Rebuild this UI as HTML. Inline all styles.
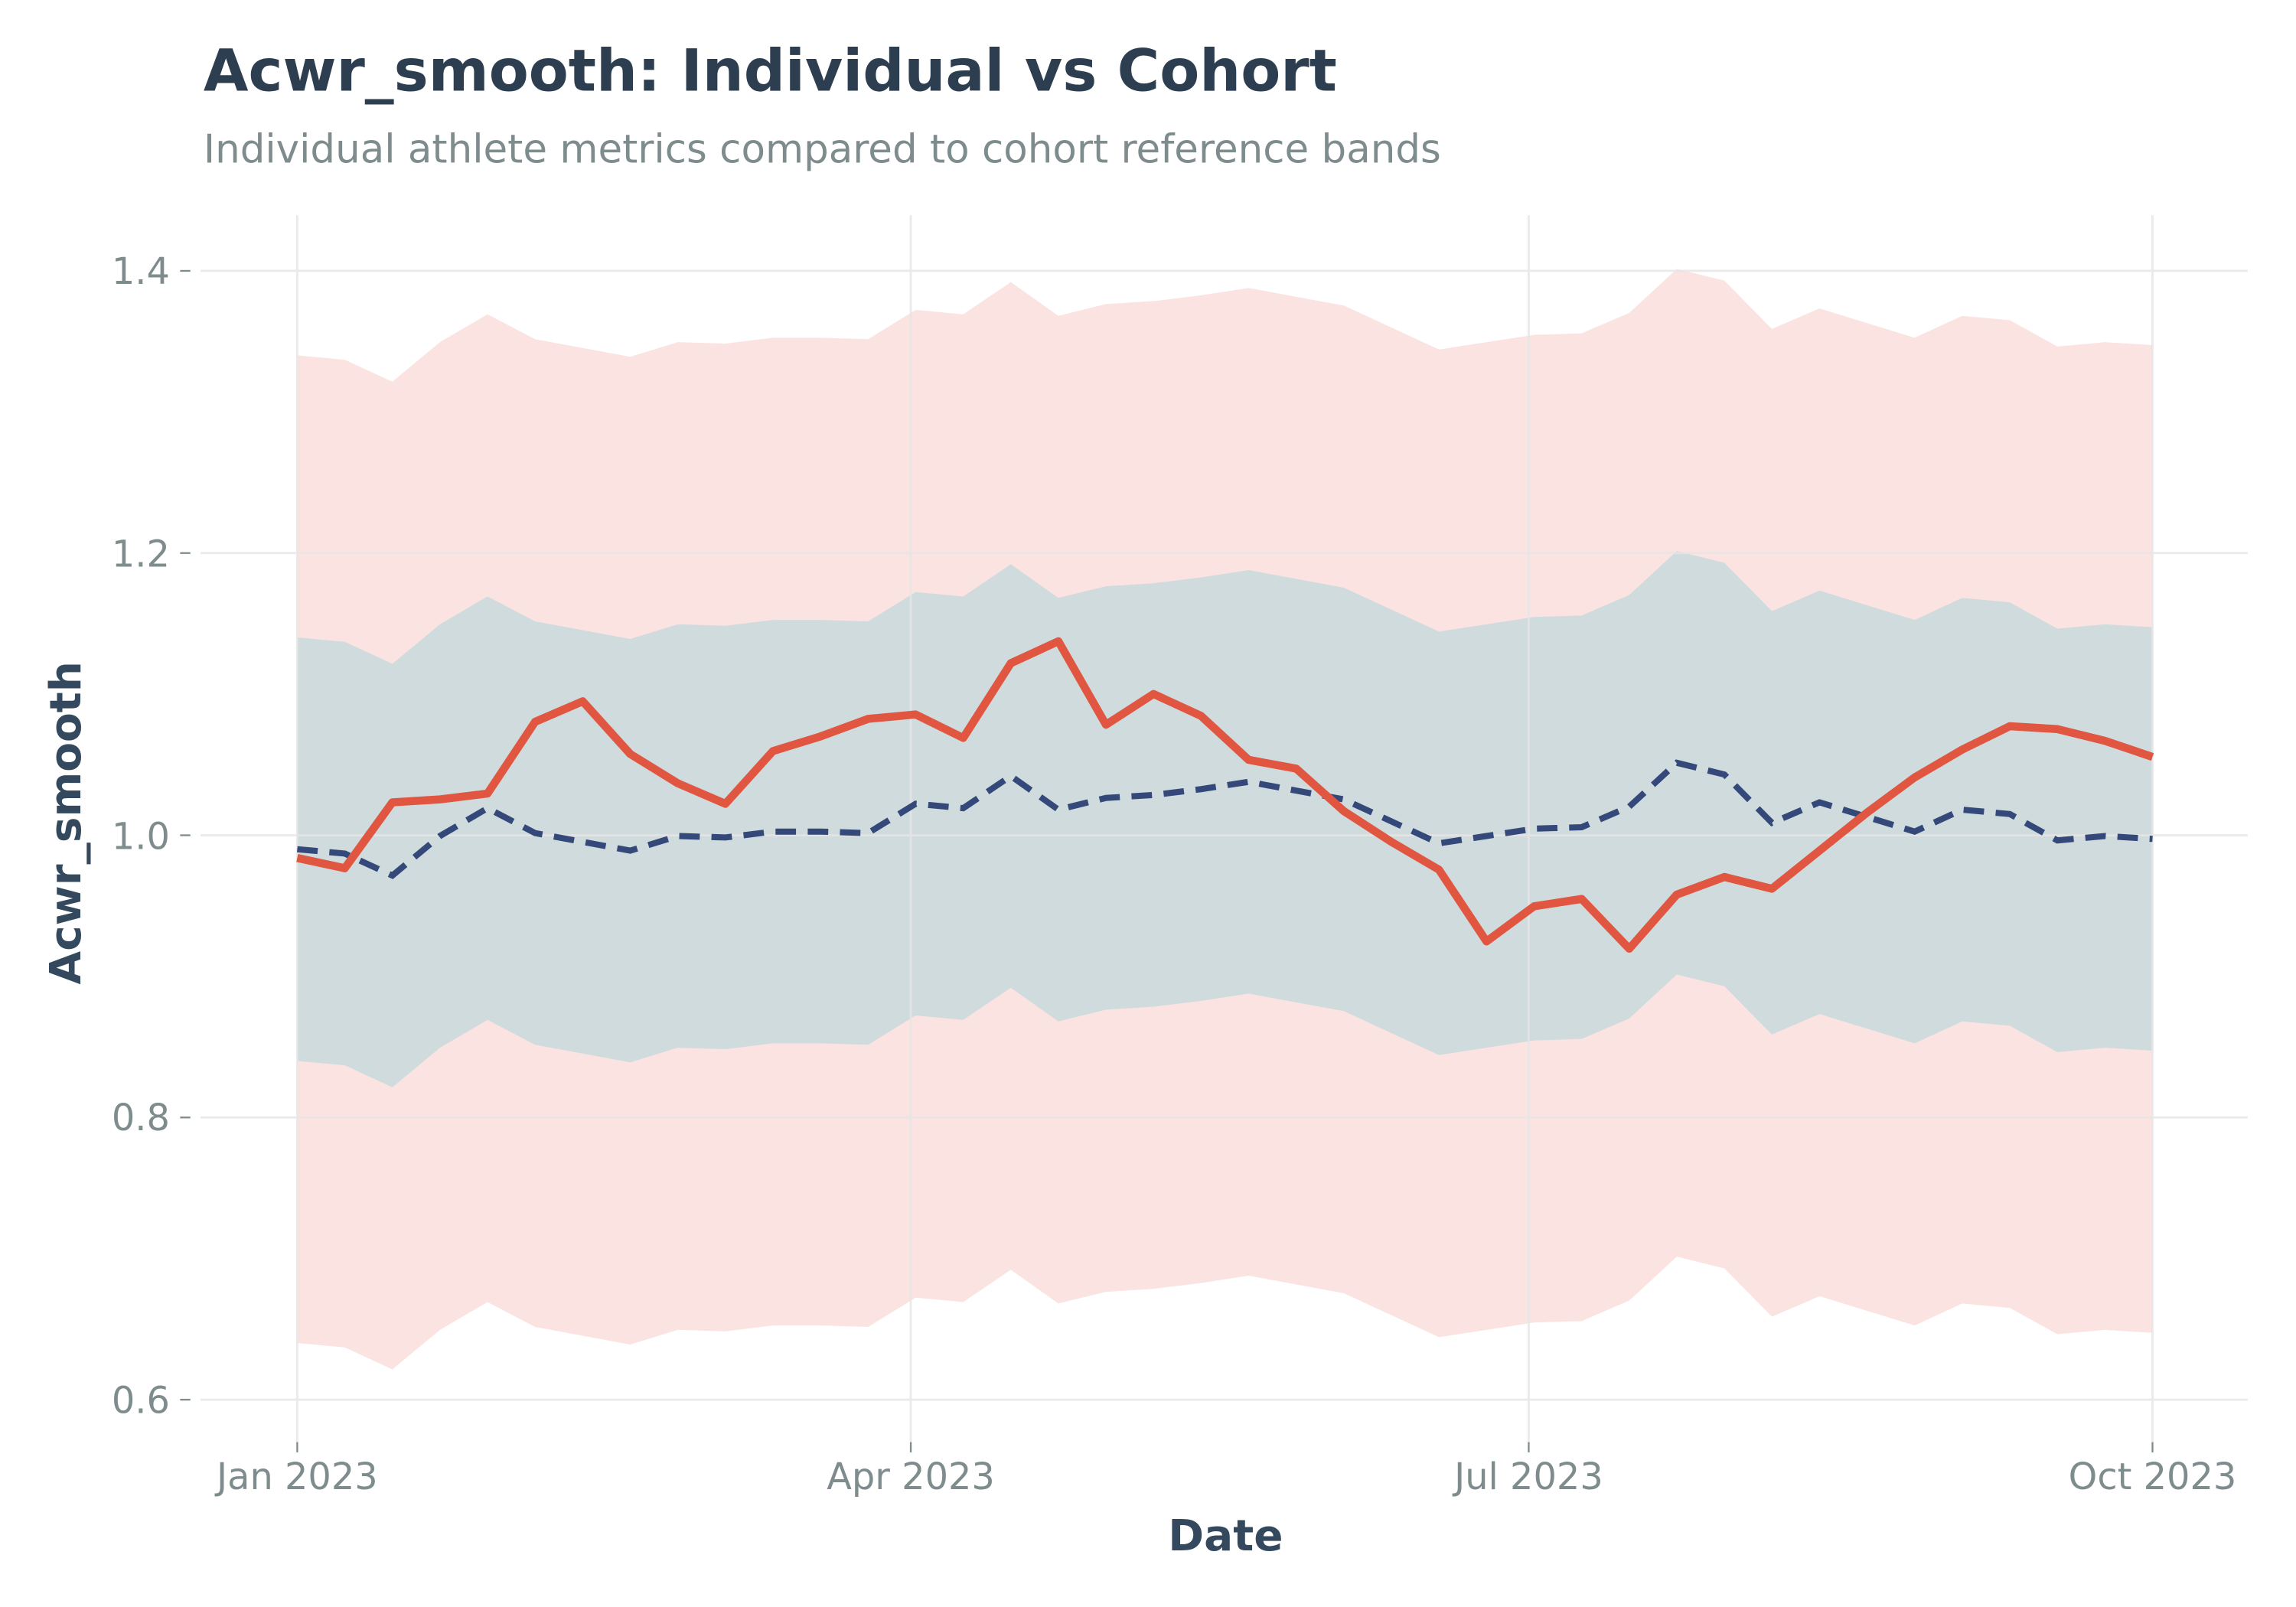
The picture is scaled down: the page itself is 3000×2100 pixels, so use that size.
<!DOCTYPE html>
<html><head><meta charset="utf-8"><style>
html,body{margin:0;padding:0;background:#fff}
svg{display:block}
text{font-family:"DejaVu Sans","Liberation Sans",sans-serif}
</style></head><body>
<svg id="s" width="3000" height="2100" viewBox="0 0 1568 1097.6" xmlns="http://www.w3.org/2000/svg">
<rect width="1568" height="1097.6" fill="#fff"/>
<text x="139" y="62" font-size="39.6" font-weight="bold" fill="#2c3e50">Acwr_smooth: Individual vs Cohort</text>
<text x="139" y="111" font-size="26.9" fill="#7f8c8d">Individual athlete metrics compared to cohort reference bands</text>
<g id="bands"></g>
<g stroke="#e6e6e6" stroke-width="1.5" opacity="0.8">
<line x1="137" x2="1535" y1="185" y2="185"/><line x1="137" x2="1535" y1="377.75" y2="377.75"/>
<line x1="137" x2="1535" y1="570.5" y2="570.5"/><line x1="137" x2="1535" y1="763.25" y2="763.25"/>
<line x1="137" x2="1535" y1="956" y2="956"/>
<line y1="147" y2="985" x1="203" x2="203"/><line y1="147" y2="985" x1="622" x2="622"/>
<line y1="147" y2="985" x1="1044" x2="1044"/><line y1="147" y2="985" x1="1470" x2="1470"/>
</g>
<g id="lines"></g>
<g font-size="25" fill="#7f8c8d" text-anchor="end">
<text x="116" y="194">1.4</text><text x="116" y="387">1.2</text><text x="116" y="580">1.0</text>
<text x="116" y="772">0.8</text><text x="116" y="965">0.6</text>
</g>
<g stroke="#7f8c8d" stroke-width="1.2">
<line x1="123" x2="130" y1="185" y2="185"/><line x1="123" x2="130" y1="377.75" y2="377.75"/>
<line x1="123" x2="130" y1="570.5" y2="570.5"/><line x1="123" x2="130" y1="763.25" y2="763.25"/>
<line x1="123" x2="130" y1="956" y2="956"/>
<line x1="203" x2="203" y1="985" y2="992"/><line x1="622" x2="622" y1="985" y2="992"/>
<line x1="1044" x2="1044" y1="985" y2="992"/><line x1="1470" x2="1470" y1="985" y2="992"/>
</g>
<g font-size="25" fill="#7f8c8d" text-anchor="middle">
<text x="203" y="1017">Jan 2023</text><text x="622" y="1017">Apr 2023</text>
<text x="1044" y="1017">Jul 2023</text><text x="1470" y="1017">Oct 2023</text>
</g>
<text x="837" y="1059" font-size="29.5" font-weight="bold" fill="#34495e" text-anchor="middle">Date</text>
<text transform="translate(55,562) rotate(-90)" font-size="29.5" font-weight="bold" fill="#34495e" text-anchor="middle">Acwr_smooth</text>
</svg>
<script>
var red=[586,593,548,546,542,493,479,515,535,549,513,503,491,488,504,453,438,495,474,489,519,525,554,575,594,643,619,614,648,611,599,607,581,555,531,512,496,498,506,517];
var mean=[580,583,598,571,552,569,575,581,571,572,568,568,569,549,552,530,553,545,543,539,534,540,546,561,576,571,566,565,551,521,529,562,548,558,568,553,556,574,571,573];
var X=i=>203+i*(1267/39);
function band(o){var a=[],b=[];for(var i=0;i<40;i++){a.push(X(i)+','+(mean[i]-o));}for(var i=39;i>=0;i--){b.push(X(i)+','+(mean[i]+o));}return a.concat(b).join(' ');}
var ns='http://www.w3.org/2000/svg';
function el(p,t,at){var e=document.createElementNS(ns,t);for(var k in at)e.setAttribute(k,at[k]);document.getElementById(p).appendChild(e);}
el('bands','polygon',{points:band(337.3),fill:'#fae3e1'});
el('bands','polygon',{points:band(144.6),fill:'#cfdbdd'});
el('lines','polyline',{points:mean.map((y,i)=>X(i)+','+y).join(' '),fill:'none',stroke:'#34497a',"stroke-width":4.2,"stroke-dasharray":"14,8"});
el('lines','polyline',{points:red.map((y,i)=>X(i)+','+y).join(' '),fill:'none',stroke:'#e05641',"stroke-width":5.5,"stroke-linejoin":"round"});
</script>
</body></html>
